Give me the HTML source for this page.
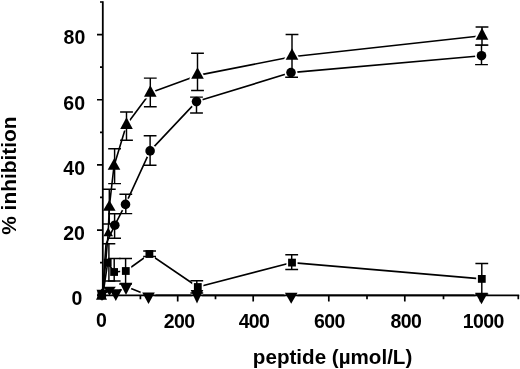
<!DOCTYPE html>
<html><head><meta charset="utf-8"><style>
html,body{margin:0;padding:0;background:#fff;width:520px;height:369px;overflow:hidden;}
svg{display:block;will-change:transform;}
text{font-family:"Liberation Sans",sans-serif;}
</style></head><body>
<svg width="520" height="369" viewBox="0 0 520 369">
<g fill="none" stroke="#000" stroke-width="1.6" stroke-linejoin="round"><polyline points="482.00,35.80 292.00,56.80 197.50,75.40 150.30,92.80 126.50,124.80 114.00,166.00 109.30,207.00 108.20,233.00 103.00,293.00"/><polyline points="481.50,55.70 291.00,72.60 196.50,101.60 150.10,150.90 125.50,204.40 114.80,225.20 106.00,244.00 102.50,294.00"/><polyline points="481.80,278.90 292.00,262.60 197.80,287.00 149.40,254.00 125.80,271.00 114.10,272.00 107.70,262.70 103.00,294.00"/><polyline points="481.50,295.40 291.20,295.40 197.00,295.40 148.50,295.40 126.00,286.50 115.80,293.00 109.50,290.00 103.00,294.50"/></g>
<g fill="#fff" stroke="#fff" stroke-width="3.4" stroke-linejoin="round"><path d="M482.00 27.80L488.30 39.80L475.70 39.80Z"/><path d="M292.00 48.30L298.30 59.80L285.70 59.80Z"/><path d="M197.50 67.30L203.80 78.70L191.20 78.70Z"/><path d="M150.30 85.30L156.60 96.70L144.00 96.70Z"/><path d="M126.50 117.30L132.80 128.90L120.20 128.90Z"/><circle cx="481.50" cy="55.70" r="4.8"/><circle cx="291.00" cy="72.60" r="4.8"/><circle cx="196.50" cy="101.60" r="4.8"/><circle cx="150.10" cy="150.90" r="4.8"/><circle cx="125.50" cy="204.40" r="4.8"/><rect x="477.90" y="275.00" width="7.80" height="7.80"/><rect x="288.10" y="258.70" width="7.80" height="7.80"/><rect x="193.90" y="283.10" width="7.80" height="7.80"/><rect x="145.50" y="250.10" width="7.80" height="7.80"/><rect x="121.90" y="267.10" width="7.80" height="7.80"/><path d="M475.20 292.70L487.80 292.70L481.50 304.20Z"/><path d="M284.90 292.70L297.50 292.70L291.20 303.70Z"/><path d="M190.70 289.90L203.30 289.90L197.00 303.50Z"/><path d="M142.20 292.50L154.80 292.50L148.50 304.00Z"/><path d="M119.70 282.80L132.30 282.80L126.00 295.00Z"/></g>
<g fill="none" stroke="#000" stroke-linecap="butt"><path d="M102.8 1.2V296.2" stroke-width="1.8"/><path d="M102 295.4H519.2" stroke-width="1.7"/><path d="M97 295.20H102.5M100 262.62H102.5M97 230.05H102.5M100 197.47H102.5M97 164.90H102.5M100 132.32H102.5M97 99.75H102.5M100 67.18H102.5M97 34.60H102.5M100 2.02H102.5M177.70 295V301.5M253.20 295V301.5M328.80 295V301.5M404.80 295V301.5M480.50 295V301.5M140.40 295V299.3M215.50 295V299.3M291.00 295V299.3M367.00 295V299.3M443.50 295V299.3M518.30 295V299.3" stroke-width="1.7"/></g>
<g fill="none" stroke="#000" stroke-width="1.45"><path d="M482.00 26.90V45.10M475.60 26.90H488.40M475.60 45.10H488.40"/><path d="M292.00 34.40V68.00M285.60 34.40H298.40"/><path d="M197.50 53.30V90.50M191.10 53.30H203.90M191.10 90.50H203.90"/><path d="M150.30 78.10V106.80M143.90 78.10H156.70M143.90 106.80H156.70"/><path d="M126.50 111.90V140.20M120.10 111.90H132.90M120.10 140.20H132.90"/><path d="M114.60 148.80V183.60M108.20 148.80H121.00M108.20 183.60H121.00"/><path d="M109.30 189.20V224.00M102.90 189.20H115.70M102.90 224.00H115.70"/><path d="M481.50 45.10V64.60M475.10 45.10H487.90M475.10 64.60H487.90"/><path d="M291.60 69.80V77.30M285.20 77.30H298.00"/><path d="M196.50 97.10V113.00M190.10 97.10H202.90M190.10 113.00H202.90"/><path d="M150.10 135.80V165.20M143.70 135.80H156.50M143.70 165.20H156.50"/><path d="M125.80 194.20V213.60M119.40 194.20H132.20M119.40 213.60H132.20"/><path d="M114.60 213.80V238.20M108.20 213.80H121.00M108.20 238.20H121.00"/><path d="M481.80 263.40V294.00M475.40 263.40H488.20M475.40 294.00H488.20"/><path d="M291.70 254.80V269.40M285.30 254.80H298.10M285.30 269.40H298.10"/><path d="M196.80 280.80V293.00M190.40 280.80H203.20M190.40 293.00H203.20"/><path d="M149.60 251.00V256.50M143.20 251.00H156.00M143.20 256.50H156.00"/><path d="M125.60 258.50V284.00M119.20 258.50H132.00M119.20 284.00H132.00"/><path d="M114.20 258.50V281.00M107.80 258.50H120.60M107.80 281.00H120.60"/><path d="M108.90 243.70V281.00M102.50 243.70H115.30M102.50 281.00H115.30"/></g>
<g fill="#000" stroke="none"><path d="M482.00 27.80L488.30 39.80L475.70 39.80Z"/><path d="M292.00 48.30L298.30 59.80L285.70 59.80Z"/><path d="M197.50 67.30L203.80 78.70L191.20 78.70Z"/><path d="M150.30 85.30L156.60 96.70L144.00 96.70Z"/><path d="M126.50 117.30L132.80 128.90L120.20 128.90Z"/><path d="M114.00 158.60L120.30 169.80L107.70 169.80Z"/><path d="M109.30 200.00L115.60 210.80L103.00 210.80Z"/><path d="M108.20 227.50L113.00 236.30L103.40 236.30Z"/><circle cx="481.50" cy="55.70" r="4.8"/><circle cx="291.00" cy="72.60" r="4.8"/><circle cx="196.50" cy="101.60" r="4.8"/><circle cx="150.10" cy="150.90" r="4.8"/><circle cx="125.50" cy="204.40" r="4.8"/><circle cx="114.80" cy="225.20" r="4.8"/><rect x="477.90" y="275.00" width="7.80" height="7.80"/><rect x="288.10" y="258.70" width="7.80" height="7.80"/><rect x="193.90" y="283.10" width="7.80" height="7.80"/><rect x="145.50" y="250.10" width="7.80" height="7.80"/><rect x="121.90" y="267.10" width="7.80" height="7.80"/><rect x="110.20" y="268.10" width="7.80" height="7.80"/><rect x="103.80" y="258.80" width="7.80" height="7.80"/><path d="M475.20 292.70L487.80 292.70L481.50 304.20Z"/><path d="M284.90 292.70L297.50 292.70L291.20 303.70Z"/><path d="M190.70 289.90L203.30 289.90L197.00 303.50Z"/><path d="M142.20 292.50L154.80 292.50L148.50 304.00Z"/><path d="M119.70 282.80L132.30 282.80L126.00 295.00Z"/><path d="M109.50 289.30L122.10 289.30L115.80 301.00Z"/><path d="M103.20 286.70L115.80 286.70L109.50 295.50Z"/><circle cx="102.00" cy="295.50" r="4.3"/><rect x="97.50" y="291.00" width="8.00" height="8.00"/><path d="M96.50 289.70L107.50 289.70L102.00 301.00Z"/><path d="M101.50 288.50L107.00 299.70L96.00 299.70Z"/></g>
<g fill="#000" font-family="Liberation Sans, sans-serif" font-weight="bold" font-size="19.5"><text x="82.4" y="304.8" text-anchor="end">0</text><text x="84.9" y="239.9" text-anchor="end">20</text><text x="85.0" y="174.9" text-anchor="end">40</text><text x="85.0" y="109.9" text-anchor="end">60</text><text x="85.3" y="44.2" text-anchor="end">80</text><text x="101.2" y="326.6" text-anchor="middle" letter-spacing="-0.6">0</text><text x="179.2" y="327.7" text-anchor="middle" letter-spacing="-0.6">200</text><text x="254.0" y="327.7" text-anchor="middle" letter-spacing="-0.6">400</text><text x="329.4" y="327.7" text-anchor="middle" letter-spacing="-0.6">600</text><text x="405.9" y="327.7" text-anchor="middle" letter-spacing="-0.6">800</text><text x="483.3" y="327.7" text-anchor="middle" letter-spacing="-0.6">1000</text><text x="332.6" y="363.6" text-anchor="middle" font-size="20.6">peptide (µmol/L)</text><text transform="translate(16.3 175.6) rotate(-90)" text-anchor="middle" font-size="20.9">% inhibition</text></g>
</svg>
</body></html>
